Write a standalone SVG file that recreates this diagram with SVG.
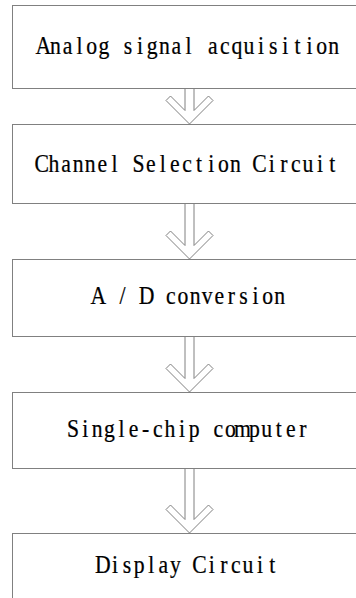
<svg xmlns="http://www.w3.org/2000/svg" width="356" height="598" viewBox="0 0 356 598">
<style>
.box{fill:#fff;stroke:#808080;stroke-width:1}
.lbl{font-family:"Liberation Serif","DejaVu Serif",serif;font-size:25.5px;fill:#000;stroke:#000;stroke-width:0.25;text-anchor:middle}
.arr{fill:#fff;stroke:#808080;stroke-width:1;stroke-linejoin:miter}
</style>
<rect width="356" height="598" fill="#fff"/>
<g id="connectors">
<path class="arr" d="M185,88.5 V110.5 L170.5,96 L166,100.5 L189.5,124 L213,100.5 L208.5,96 L194,110.5 V88.5"/>
<path class="arr" d="M185,203.5 V245.5 L170.5,231 L166,235.5 L189.5,259 L213,235.5 L208.5,231 L194,245.5 V203.5"/>
<path class="arr" d="M185,336.5 V378.5 L170.5,364 L166,368.5 L189.5,392 L213,368.5 L208.5,364 L194,378.5 V336.5"/>
<path class="arr" d="M185,468.5 V519.5 L170.5,505 L166,509.5 L189.5,533 L213,509.5 L208.5,505 L194,519.5 V468.5"/>
</g>
<g id="n1"><rect class="box" x="12.5" y="5.5" width="345" height="83"/><text class="lbl" transform="matrix(0.85,0,0,1,188.5,54.3)" x="-170.82 -156.59 -142.35 -128.12 -113.88 -99.65 -85.41 -71.18 -56.94 -42.71 -28.47 -14.24 0 14.24 28.47 42.71 56.94 71.18 85.41 99.65 113.88 128.12 142.35 156.59 170.82" y="0">Analog signal acquisition</text></g>
<g id="n2"><rect class="box" x="12.5" y="124.5" width="345" height="79"/><text class="lbl" transform="matrix(0.85,0,0,1,187,171.7)" x="-170.82 -156.59 -142.35 -128.12 -113.88 -99.65 -85.41 -71.18 -56.94 -42.71 -28.47 -14.24 0 14.24 28.47 42.71 56.94 71.18 85.41 99.65 113.88 128.12 142.35 156.59 170.82" y="0">Channel Selection Circuit</text></g>
<g id="n3"><rect class="box" x="12.5" y="259.5" width="345" height="77"/><text class="lbl" transform="matrix(0.85,0,0,1,189,304.3)" x="-106.76 -92.53 -78.29 -64.06 -49.82 -35.59 -21.35 -7.12 7.12 21.35 35.59 49.82 64.06 78.29 92.53 106.76" y="0">A / D conversion</text></g>
<g id="n4"><rect class="box" x="12.5" y="392.5" width="345" height="76"/><text class="lbl" transform="matrix(0.85,0,0,1,188,437)" x="-135.23 -121 -106.76 -92.53 -78.29 -64.06 -49.82 -35.59 -21.35 -7.12 7.12 21.35 35.59 49.82 64.06 78.29 92.53 106.76 121 135.23" y="0">Single-chip computer</text></g>
<g id="n5"><rect class="box" x="12.5" y="533.5" width="345" height="80"/><text class="lbl" transform="matrix(0.85,0,0,1,187.5,572.7)" x="-99.65 -85.41 -71.18 -56.94 -42.71 -28.47 -14.24 0 14.24 28.47 42.71 56.94 71.18 85.41 99.65" y="0">Display Circuit</text></g>
</svg>
